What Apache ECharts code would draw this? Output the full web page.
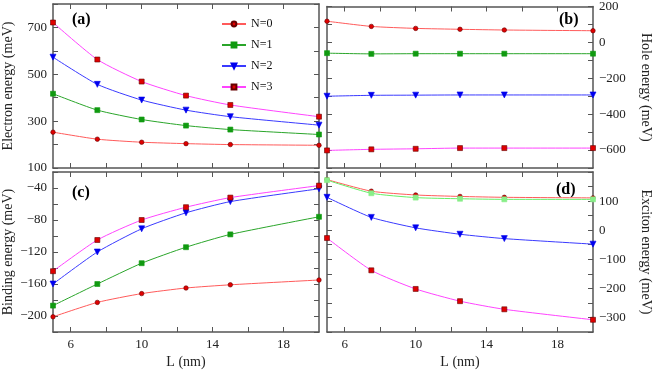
<!DOCTYPE html>
<html>
<head>
<meta charset="utf-8">
<script src="https://cdn.jsdelivr.net/npm/echarts@6/dist/echarts.min.js"></script>
<style>
  html, body { margin: 0; padding: 0; background: #fff; }
  #chart { width: 654px; height: 370px; }
</style>
</head>
<body>
<div id="chart"></div>
<script>
// well width L (nm)
const L = [5, 7.5, 10, 12.5, 15, 20]
const names = ['N=0', 'N=1', 'N=2', 'N=3']

// (a) electron energy, meV
const electron = [
  [253, 223, 210, 204, 200, 197],
  [417, 347, 307, 281, 264, 243],
  [573, 457, 390, 347, 319, 283],
  [721, 563, 469, 409, 369, 319]
]
// (b) hole energy, meV
const hole = [
  [118, 89, 78, 73, 69, 65],
  [-60, -64, -63, -63, -63, -63],
  [-300, -295, -294, -293, -293, -293],
  [-602, -596, -593, -589, -589, -589]
]
// (c) binding energy, meV
const binding = [
  [-201, -183, -172, -165, -161, -155],
  [-187, -160, -134, -114, -98, -76],
  [-160, -120, -91, -71, -57, -41],
  [-144, -105, -80, -64, -52, -37]
]
// (d) exciton energy, meV
const exciton = [
  [174, 134, 121, 116, 113, 111],
  [172, 127, 112, 108, 106, 106],
  [113, 44, 8, -14, -29, -48],
  [-27, -138, -202, -244, -272, -308]
]

const xTicks = [6, 8, 10, 12, 14, 16, 18]
const xLabels = [6, 10, 14, 18]

const serif = 'Liberation Serif'
const frame = '#555'
const lineColors = ['#ff5a5a', '#2aa52a', '#3a3aff', '#ff44ff']
const markColors = ['#e00000', '#109a10', '#0000ee', '#e00000']
const symbols = ['circle', 'rect', 'triangle', 'rect']
const symbolSizes = [4.5, 5, 6, 5]

const panels = [
  { data: electron, min: 100, max: 800, step: 100, labels: [100, 300, 500, 700], side: 'left', name: 'Electron energy (meV)', bottom: false },
  { data: hole, min: -700, max: 200, step: 100, labels: [-600, -400, -200, 0, 200], side: 'right', name: 'Hole energy (meV)', bottom: false },
  { data: binding, min: -220, max: -20, step: 20, labels: [-200, -160, -120, -80, -40], side: 'left', name: 'Binding energy (meV)', bottom: true },
  { data: exciton, min: -350, max: 200, step: 50, labels: [-300, -200, -100, 0, 100], side: 'right', name: 'Exciton energy (meV)', bottom: true }
]

const grids = [
  { left: 48, top: 4, width: 271, height: 164 },
  { left: 327, top: 4, width: 271, height: 164 },
  { left: 48, top: 172, width: 271, height: 164 },
  { left: 327, top: 172, width: 271, height: 164 }
]

const fmt = v => String(v).replace('-', '\u2212')
const tickStyle = { show: true, inside: true, length: 5, lineStyle: { color: frame, width: 1 } }
const lineStyle = { show: true, onZero: false, lineStyle: { color: frame, width: 1.5 } }

let xAxis = []
let yAxis = []
let series = []

panels.forEach(function (p, i) {
  // bottom and top x axes
  xAxis.push({
    type: 'value', gridIndex: i, position: 'bottom', min: 5, max: 20,
    axisLine: lineStyle,
    axisTick: Object.assign({}, tickStyle, { customValues: xTicks }),
    axisLabel: { show: p.bottom, customValues: xLabels, color: '#222', fontFamily: serif, fontSize: 13, margin: 6 },
    splitLine: { show: false },
    name: p.bottom ? 'L (nm)' : '', nameLocation: 'middle', nameGap: 23,
    nameTextStyle: { color: '#222', fontFamily: serif, fontSize: 14 }
  })
  xAxis.push({
    type: 'value', gridIndex: i, position: 'top', min: 5, max: 20,
    axisLine: lineStyle,
    axisTick: Object.assign({}, tickStyle, { customValues: xTicks }),
    axisLabel: { show: false },
    splitLine: { show: false }
  })
  const other = p.side === 'left' ? 'right' : 'left'
  yAxis.push({
    type: 'value', gridIndex: i, position: p.side, min: p.min, max: p.max, interval: p.step,
    axisLine: lineStyle,
    axisTick: tickStyle,
    axisLabel: { customValues: p.labels, formatter: fmt, color: '#222', fontFamily: serif, fontSize: 13, margin: 6 },
    splitLine: { show: false },
    name: p.name, nameLocation: 'middle',
    nameGap: p.side === 'left' ? 38 : 46,
    nameRotate: p.side === 'left' ? 90 : -90,
    nameTextStyle: { color: '#222', fontFamily: serif, fontSize: 14 }
  })
  yAxis.push({
    type: 'value', gridIndex: i, position: other, min: p.min, max: p.max, interval: p.step,
    axisLine: lineStyle,
    axisTick: tickStyle,
    axisLabel: { show: false },
    splitLine: { show: false }
  })

  p.data.forEach(function (vals, n) {
    let lc = lineColors[n]
    let mc = markColors[n]
    // exciton N=1 is drawn in a lighter green
    if (i === 3 && n === 1) { lc = '#66ee66'; mc = '#88ee88' }
    series.push({
      name: names[n],
      type: 'line',
      xAxisIndex: 2 * i,
      yAxisIndex: 2 * i,
      smooth: 0.2,
      symbol: symbols[n],
      symbolRotate: n === 2 ? 180 : 0,
      symbolSize: symbolSizes[n],
      lineStyle: { color: lc, width: 1 },
      itemStyle: { color: mc, borderColor: n === 0 || n === 3 ? '#600' : mc, borderWidth: 0.6 },
      data: L.map((x, k) => [x, vals[k]]),
      z: 3 + n
    })
  })
})

const tagFont = 'bold 16px "Liberation Serif"'
const graphic = [
  { type: 'text', left: 72, top: 12, style: { text: '(a)', font: tagFont, fill: '#000' } },
  { type: 'text', left: 559, top: 12, style: { text: '(b)', font: tagFont, fill: '#000' } },
  { type: 'text', left: 72, top: 185, style: { text: '(c)', font: tagFont, fill: '#000' } },
  { type: 'text', left: 556, top: 182, style: { text: '(d)', font: tagFont, fill: '#000' } }
]

const myChart = echarts.init(document.getElementById('chart'))
myChart.setOption({
  animation: false,
  grid: grids,
  xAxis: xAxis,
  yAxis: yAxis,
  legend: {
    data: names,
    orient: 'vertical',
    left: 216,
    top: 13,
    itemWidth: 24,
    itemHeight: 6,
    itemGap: 9,
    textStyle: { color: '#111', fontFamily: serif, fontSize: 12 }
  },
  graphic: graphic,
  series: series
})
</script>
</body>
</html>
